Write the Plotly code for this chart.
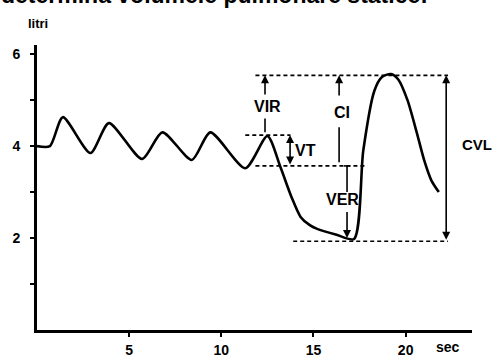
import plotly.graph_objects as go

# Spirogram trace (time in sec, volume in litri)
t_sec = [0, 0.7, 1.4, 2.9, 3.9, 5.7, 6.8, 8.4, 9.4, 11.3, 12.5, 13.2, 13.8, 14.3, 14.8,
         15.2, 16.2, 17.2, 17.7, 18.3, 18.7, 19.2, 19.6, 20.1, 20.6, 21.0, 21.4, 21.8]
vol_l = [4.0, 4.0, 4.63, 3.85, 4.5, 3.72, 4.3, 3.7, 4.3, 3.52, 4.22, 3.55, 2.9, 2.46, 2.28,
         2.2, 2.08, 1.98, 3.9, 5.2, 5.5, 5.57, 5.45, 5.0, 4.3, 3.7, 3.25, 3.0]

# Reference levels (litri)
lvl_top = 5.54
lvl_vt_top = 4.24
lvl_mid = 3.57
lvl_bot = 1.93
lvl_min = 1.98

x_ticks = [5, 10, 15, 20]
y_ticks = [1, 2, 3, 4, 5, 6]
y_ticktext = ["", "2", "", "4", "", "6"]

fig = go.Figure()
fig.add_trace(go.Scatter(x=t_sec, y=vol_l, mode="lines",
                         line=dict(color="black", width=2.6, shape="spline", smoothing=0.7),
                         hoverinfo="skip"))

dash = dict(color="black", width=1.6, dash="4px,3px")
# dashed horizontal guides: (level, x0, x1)
guides = [(lvl_top, 11.85, 22.3), (lvl_vt_top, 11.3, 13.75),
          (lvl_mid, 11.85, 17.8), (lvl_bot, 13.9, 22.3)]
for lv, x0, x1 in guides:
    fig.add_shape(type="line", x0=x0, x1=x1, y0=lv, y1=lv, xref="x", yref="y", line=dash)

solid = dict(color="black", width=1.6)
# plain segments (x, y0, y1)
segs = [(12.37, 4.3, 4.6), (16.39, 3.65, 4.41), (16.82, 3.0, 3.57)]
for x, y0, y1 in segs:
    fig.add_shape(type="line", x0=x, x1=x, y0=y0, y1=y1, xref="x", yref="y", line=solid)
fig.add_shape(type="line", x0=16.65, x1=17.0, y0=lvl_mid, y1=lvl_mid, xref="x", yref="y", line=solid)

def arrow(x, y_head, y_tail, both=False):
    fig.add_annotation(x=x, y=y_head, ax=x, ay=y_tail, xref="x", yref="y",
                       axref="x", ayref="y", text="", showarrow=True,
                       arrowhead=2, arrowsize=1, arrowwidth=1.6, arrowcolor="black",
                       arrowside="end+start" if both else "end", startarrowhead=2,
                       startarrowsize=1)

arrow(12.37, lvl_top, 5.09)
arrow(16.39, lvl_top, 5.07)
arrow(13.73, lvl_vt_top, lvl_mid, both=True)
arrow(16.82, lvl_min + 0.02, 2.6)
arrow(22.2, lvl_top, lvl_bot, both=True)

lab_font = dict(family="Liberation Sans, Arial, sans-serif", size=16, color="black")
labels = [("<b>VIR</b>", 12.53, 4.87), ("<b>CI</b>", 16.55, 4.74), ("<b>VT</b>", 14.55, 3.91),
          ("<b>VER</b>", 16.55, 2.83)]
for txt, x, y in labels:
    fig.add_annotation(x=x, y=y, xref="x", yref="y", text=txt, showarrow=False, font=lab_font,
                       yanchor="middle")
# CVL sits just right of the axis range, so place it in paper coordinates
fig.add_annotation(x=1.0115, y=4.04, xref="paper", yref="y", text="<b>CVL</b>", showarrow=False,
                   xanchor="center", yanchor="middle",
                   font=dict(family="Liberation Sans, Arial, sans-serif", size=15, color="black"))

fig.add_annotation(x=22.3, y=-0.06, xref="x", yref="paper", text="<b>sec</b>", yanchor="middle",
                   showarrow=False, font=dict(family="Liberation Sans, Arial", size=14, color="black"))
fig.add_annotation(x=0.05, y=1.074, xref="x", yref="paper", text="<b>litri</b>", yanchor="middle",
                   showarrow=False, font=dict(family="Liberation Sans, Arial", size=13, color="black"))
fig.add_annotation(x=0.9034, y=1.126, xref="paper", yref="paper", xanchor="right", yanchor="bottom",
                   yshift=-1,
                   text="<b>determina volumele pulmonare statice:</b>", showarrow=False,
                   font=dict(family="Liberation Sans, Arial", size=23, color="black"))

tick_font = dict(family="Liberation Sans, Arial, sans-serif", size=14, color="black")
fig.update_xaxes(range=[0, 23.6], showline=True, linecolor="black", linewidth=2.6,
                 tickvals=x_ticks, ticktext=[f"<b>{v}</b>" for v in x_ticks],
                 ticks="outside", ticklen=4, tickwidth=1.5, tickcolor="black", automargin=False,
                 tickfont=tick_font, showgrid=False, zeroline=False, ticklabelstandoff=1)
fig.update_yaxes(range=[0, 6.2], showline=True, linecolor="black", linewidth=2.6,
                 tickvals=y_ticks, ticktext=[f"<b>{v}</b>" if v else "" for v in y_ticktext],
                 ticks="outside", ticklen=4, tickwidth=1.5, tickcolor="black", automargin=False,
                 tickfont=tick_font, showgrid=False, zeroline=False, ticklabelstandoff=7)
fig.update_layout(width=495, height=356, margin=dict(l=37, r=23, t=45, b=26),
                  paper_bgcolor="white", plot_bgcolor="white", showlegend=False)
fig.write_html("out.html", config={"displayModeBar": False},
               post_script="document.body.style.margin='0';")
